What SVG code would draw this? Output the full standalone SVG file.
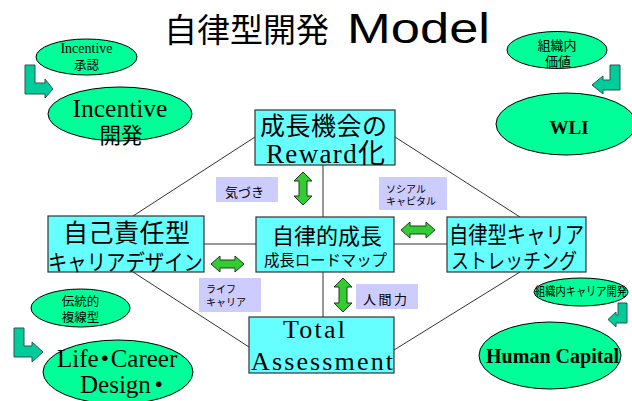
<svg xmlns="http://www.w3.org/2000/svg" width="632" height="401" viewBox="0 0 632 401">
<style>
.jp{font-family:"Noto Sans CJK JP","Liberation Sans",sans-serif;fill:#000}
.sf{font-family:"Liberation Serif","Noto Sans CJK JP",serif;fill:#000}
.bd{font-weight:bold}
.box{fill:#66ffff;stroke:#333;stroke-width:1.2}
.ell{fill:#00ff99;stroke:#000;stroke-width:1}
.lab{fill:#ccccff}
.dbl{fill:#33cc33;stroke:#1d3d1d;stroke-width:1}
.bent{fill:#00cc99;stroke:#2d5555;stroke-width:1}
.ln{stroke:#333;stroke-width:1;fill:none}
.dot{font-family:"Noto Sans CJK JP",sans-serif;font-size:22px;font-weight:bold}
</style>
<rect width="632" height="401" fill="#fff"/>
<text id="title" class="jp" y="42" font-size="33"><tspan x="164">自律型開発</tspan><tspan x="347" y="43" font-family="Liberation Sans,sans-serif" font-size="43" textLength="143" lengthAdjust="spacingAndGlyphs">Model</tspan></text>

<g id="connectors">
<line class="ln" x1="255" y1="137" x2="133" y2="216"/>
<line class="ln" x1="395" y1="137" x2="520" y2="217"/>
<line class="ln" x1="133" y1="272" x2="249" y2="347"/>
<line class="ln" x1="520" y1="272" x2="394" y2="350"/>
<line class="ln" x1="323" y1="165" x2="323" y2="217"/>
<line class="ln" x1="323" y1="272" x2="323" y2="317"/>
<line class="ln" x1="204" y1="244" x2="256" y2="244"/>
<line class="ln" x1="394" y1="244" x2="447" y2="244"/>
<path class="dbl" d="M303,172 L312,181 L307,181 L307,196 L312,196 L303,205 L294,196 L299,196 L299,181 L294,181 Z"/>
<path class="dbl" d="M343,278 L352,287 L347,287 L347,303 L352,303 L343,312 L334,303 L339,303 L339,287 L334,287 Z"/>
<path class="dbl" d="M401,230 L410,222 L410,226 L426,226 L426,222 L435,230 L426,238 L426,234 L410,234 L410,238 Z"/>
<path class="dbl" d="M211,264 L220,256 L220,260 L235,260 L235,256 L244,264 L235,272 L235,268 L220,268 L220,272 Z"/>
<path class="bent" d="M25,65 L35,65 L35,83 L45,83 L45,79 L53,89 L45,98 L45,94 L25,94 Z"/>
<path class="bent" d="M620,65 L610,65 L610,80 L603,80 L603,76 L592,85 L603,94 L603,90 L620,90 Z"/>
<path class="bent" d="M14,328 L24,328 L24,346 L32,346 L32,342 L43,352 L32,362 L32,357 L14,357 Z"/>
<path class="bent" d="M627,303 L618,303 L618,315 L616,315 L616,312 L608,319.5 L616,327 L616,323 L627,323 Z"/>
</g>

<g id="label-kizuki"><rect class="lab" x="216" y="177" width="62" height="25"/><text class="jp" x="225" y="197" font-size="13">気づき</text></g>
<g id="label-social"><rect class="lab" x="379" y="177" width="68" height="33"/><text class="jp" x="386" y="193" font-size="10">ソシアル</text><text class="jp" x="386" y="205" font-size="10">キャピタル</text></g>
<g id="label-life"><rect class="lab" x="199" y="278" width="62" height="34"/><text class="jp" x="206" y="293" font-size="10">ライフ</text><text class="jp" x="206" y="306" font-size="10">キャリア</text></g>
<g id="label-ningen"><rect class="lab" x="356" y="284" width="62" height="25"/><text class="jp" x="363" y="304" font-size="13" textLength="44">人間力</text></g>

<g id="box-reward"><rect class="box" x="255" y="110" width="140" height="55"/><text class="jp" x="260" y="135" font-size="25" textLength="127">成長機会の</text><text class="sf" x="266" y="163" font-size="27" textLength="119">Reward化</text></g>
<g id="box-growth"><rect class="box" x="256" y="217" width="138" height="55"/><text class="jp" x="272" y="244" font-size="22" textLength="110">自律的成長</text><text class="jp" x="264" y="266" font-size="15.5" textLength="123">成長ロードマップ</text></g>
<g id="box-total"><rect class="box" x="249" y="317" width="145" height="56"/><text class="sf" x="283" y="338" font-size="26" textLength="62">Total</text><text class="sf" x="251" y="370" font-size="26" textLength="142">Assessment</text></g>
<g id="box-self"><rect class="box" x="48" y="216" width="156" height="56"/><text class="jp" x="63" y="242" font-size="25" textLength="127">自己責任型</text><text class="jp" x="48" y="270" font-size="22" textLength="155" lengthAdjust="spacingAndGlyphs">キャリアデザイン</text></g>
<g id="box-stretch"><rect class="box" x="447" y="217" width="139" height="55"/><text class="jp" x="449" y="243" font-size="23" textLength="135" lengthAdjust="spacingAndGlyphs">自律型キャリア</text><text class="jp" x="451" y="268" font-size="21" textLength="126" lengthAdjust="spacingAndGlyphs">ストレッチング</text></g>

<g id="ell-shonin"><ellipse class="ell" cx="86.5" cy="57" rx="50.5" ry="18"/><text class="sf" x="86.5" y="53" font-size="14" text-anchor="middle">Incentive</text><text class="jp" x="86.5" y="70" font-size="12.5" text-anchor="middle">承認</text></g>
<g id="ell-kaihatsu"><ellipse class="ell" cx="120" cy="114" rx="72" ry="27"/><text class="sf" x="120" y="117" font-size="25.5" text-anchor="middle">Incentive</text><text class="jp" x="121" y="143" font-size="21.5" text-anchor="middle">開発</text></g>
<g id="ell-kachi"><ellipse class="ell" cx="557" cy="50" rx="50" ry="18.5"/><text class="jp" x="557" y="50" font-size="13" text-anchor="middle">組織内</text><text class="jp" x="558" y="66" font-size="13" text-anchor="middle">価値</text></g>
<g id="ell-wli"><ellipse class="ell" cx="566" cy="124" rx="70" ry="31"/><text class="sf bd" x="569" y="134" font-size="19" text-anchor="middle">WLI</text></g>
<g id="ell-dento"><ellipse class="ell" cx="80.5" cy="308" rx="49.5" ry="19"/><text class="jp" x="80.5" y="306" font-size="12.5" text-anchor="middle">伝統的</text><text class="jp" x="80.5" y="322" font-size="12.5" text-anchor="middle">複線型</text></g>
<g id="ell-life"><ellipse class="ell" cx="118" cy="372" rx="75" ry="32"/><text class="sf" x="57" y="367" font-size="25">Life<tspan class="dot" dx="-5" dy="-1">・</tspan><tspan dx="-5" dy="1">Career</tspan></text><text class="sf" x="80" y="393" font-size="25">Design<tspan class="dot" dx="-3" dy="-1">・</tspan></text></g>
<g id="ell-soshiki"><ellipse class="ell" cx="581" cy="292" rx="47" ry="14"/><text class="jp" x="535" y="296" font-size="12.5" textLength="92" lengthAdjust="spacingAndGlyphs">組織内キャリア開発</text></g>
<g id="ell-human"><ellipse class="ell" cx="550" cy="355.5" rx="71" ry="33.5"/><text class="sf bd" x="486" y="363" font-size="20" textLength="133">Human Capital</text></g>
</svg>
